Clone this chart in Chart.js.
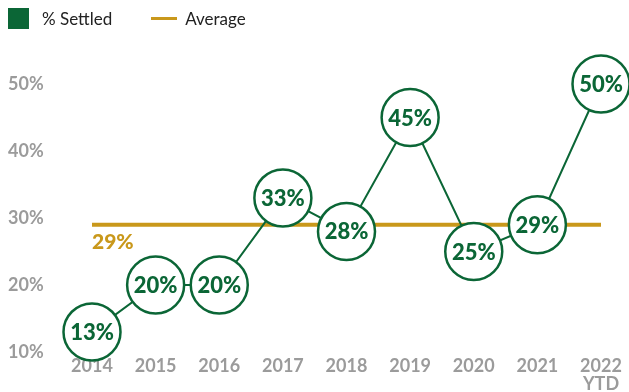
<!DOCTYPE html>
<html>
<head>
<meta charset="utf-8">
<script src="https://cdn.jsdelivr.net/npm/chart.js@4.4.1/dist/chart.umd.min.js"></script>
<style>
    body { margin: 0; background: #fff; }
    .wrap { position: relative; width: 629px; height: 392px; }
    .legend { position: absolute; left: 8px; top: 8px; display: flex; align-items: center; font: 17px Lato, sans-serif; color: #222; z-index: 1; }
    .legend .box { width: 21px; height: 21px; background: #0b6636; margin-right: 13px; }
    .legend .line { width: 26px; height: 3px; background: #c9981b; margin: 0 8px 0 39px; }
</style>
</head>
<body>
<div class="wrap">
    <div class="legend">
        <span class="box"></span><span>% Settled</span>
        <span class="line"></span><span>Average</span>
    </div>
    <canvas id="settled-chart" width="629" height="392"></canvas>
</div>
<script>
const years = ['2014', '2015', '2016', '2017', '2018', '2019', '2020', '2021', ['2022', 'YTD']]
const settled = [0.13, 0.20, 0.20, 0.33, 0.28, 0.45, 0.25, 0.29, 0.50]
const averageValue = 0.29
const averageLine = [0.29, 0.29, 0.29, 0.29, 0.29, 0.29, 0.29, 0.29, 0.29]
const yTicks = [0.1, 0.2, 0.3, 0.4, 0.5]

const green = '#0b6636'
const gold = '#c9981b'

function pct(v) {
    return Math.round(v * 100) + '%'
}

// writes the value inside each circle and the average figure under the gold line
const valueLabels = {
    id: 'valueLabels',
    afterDatasetsDraw(chart) {
        const ctx = chart.ctx
        const meta = chart.getDatasetMeta(0)
        ctx.save()
        ctx.font = '900 22px Lato'
        ctx.fillStyle = green
        ctx.textAlign = 'center'
        ctx.textBaseline = 'middle'
        meta.data.forEach((point, i) => {
            ctx.fillText(pct(settled[i]), point.x, point.y + 1)
        })

        const x = chart.scales.x.getPixelForValue(0)
        const y = chart.scales.y.getPixelForValue(averageValue)
        ctx.font = '900 21px Lato'
        ctx.fillStyle = gold
        ctx.textAlign = 'left'
        ctx.fillText(pct(averageValue), x, y + 18)
        ctx.restore()
    }
}

const ctx = document.getElementById('settled-chart').getContext('2d')

new Chart(ctx, {
    type: 'line',
    data: {
        labels: years,
        datasets: [{
            label: '% Settled',
            data: settled,
            borderColor: green,
            borderWidth: 2,
            pointRadius: 28.5,
            pointHoverRadius: 28.5,
            pointBorderWidth: 2.5,
            pointBackgroundColor: '#fff',
            pointBorderColor: green,
            tension: 0,
            clip: false
        }, {
            label: 'Average',
            data: averageLine,
            borderColor: gold,
            borderWidth: 4,
            pointRadius: 0,
            clip: false
        }]
    },
    options: {
        responsive: false,
        animation: false,
        layout: {
            // big circles would otherwise pad the chart area on every side
            autoPadding: false,
            padding: { top: 84, right: 28, bottom: 0, left: 8 }
        },
        plugins: {
            legend: { display: false },
            tooltip: { enabled: false }
        },
        scales: {
            x: {
                offset: false,
                z: 1, // keep year labels above the low circles
                grid: { display: false, drawTicks: false },
                border: { display: false },
                afterFit: (scale) => {
                    scale.height = 40
                },
                ticks: {
                    color: '#9b9b9b',
                    font: { family: 'Lato', size: 18, weight: 'bold', lineHeight: 1.0 },
                    padding: 5,
                    maxRotation: 0,
                    autoSkip: false
                }
            },
            y: {
                min: 0.1,
                max: 0.5,
                grid: { display: false, drawTicks: false },
                border: { display: false },
                afterBuildTicks: (scale) => {
                    scale.ticks = yTicks.map(v => ({ value: v }))
                },
                afterFit: (scale) => {
                    scale.width = 84
                },
                ticks: {
                    color: '#9b9b9b',
                    font: { family: 'Lato', size: 18, weight: 'bold' },
                    crossAlign: 'far',
                    padding: 0,
                    callback: (v) => pct(v)
                }
            }
        }
    },
    plugins: [valueLabels]
})
</script>
</body>
</html>
